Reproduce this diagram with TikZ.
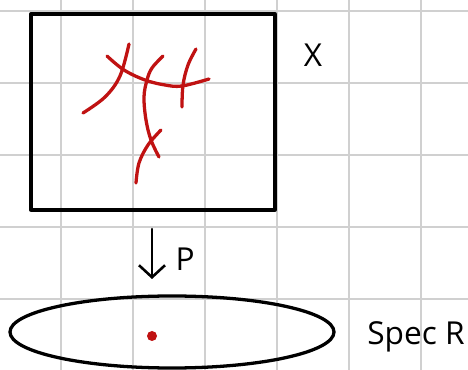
\documentclass[tikz,border=0pt]{standalone}
\usepackage{fontspec}
\setmainfont{Open Sans}
\usetikzlibrary{arrows.meta,positioning,shapes.geometric,calc}
\definecolor{gridgray}{RGB}{208,208,208}
\definecolor{sketchred}{RGB}{192,18,18}

\begin{document}
\begin{tikzpicture}[x=0.03cm, y=-0.03cm, line cap=round, line join=round,
    gridline/.style={gridgray, line width=1.2pt},
    redstroke/.style={sketchred, line width=2.8pt},
    hand/.style={font=\fontsize{27}{32}\selectfont, inner sep=0pt}]
  \fill[white] (0,0) rectangle (468,370);
  \useasboundingbox (0,0) rectangle (468,370);
  % squared paper
  \foreach \gx in {61,133,205,277,349,421} \draw[gridline] (\gx,0) -- (\gx,370);
  \foreach \gy in {11,83,155,227,299} \draw[gridline] (0,\gy) -- (468,\gy);

  \node[draw, line width=2.8pt, minimum width=7.32cm, minimum height=5.88cm] (box) at (153,112) {};
  \node[draw, ellipse, line width=2.8pt, inner sep=0pt, minimum width=9.72cm, minimum height=2.16cm] (base) at (172,332) {};
  \node[hand] (labelX) at (313,55) {X};
  \node[hand] (labelSpec) at (416,337) {Spec R};

  % curves inside X
  \draw[redstroke] plot[smooth, tension=0.6] coordinates {(83,113) (105,97) (120,76) (129,44)};
  \draw[redstroke] plot[smooth, tension=0.6] coordinates {(107,56) (124,70) (145,80) (165,85) (182,86) (209,79)};
  \draw[redstroke] plot[smooth, tension=0.6] coordinates {(163,56) (152,68) (147,80) (144,97) (146,120) (151,140) (159,157)};
  \draw[redstroke] plot[smooth, tension=0.6] coordinates {(161,130) (148,145) (139,163) (136,183)};
  \draw[redstroke] plot[smooth, tension=0.6] coordinates {(196,49) (188,65) (183,85) (182,107)};

  % the map down to Spec R
  \coordinate (ptop) at (152,229);
  \coordinate (pbot) at (152,279);
  \draw[-{Straight Barb[length=3.6mm, width=7.8mm]}, line width=2.2pt] (ptop) -- (pbot);
  \node[hand, right=0.7cm of $(ptop)!0.6!(pbot)$] (labelP) {P};
  \fill[sketchred] (152,336) circle (5);
\end{tikzpicture}
\end{document}
